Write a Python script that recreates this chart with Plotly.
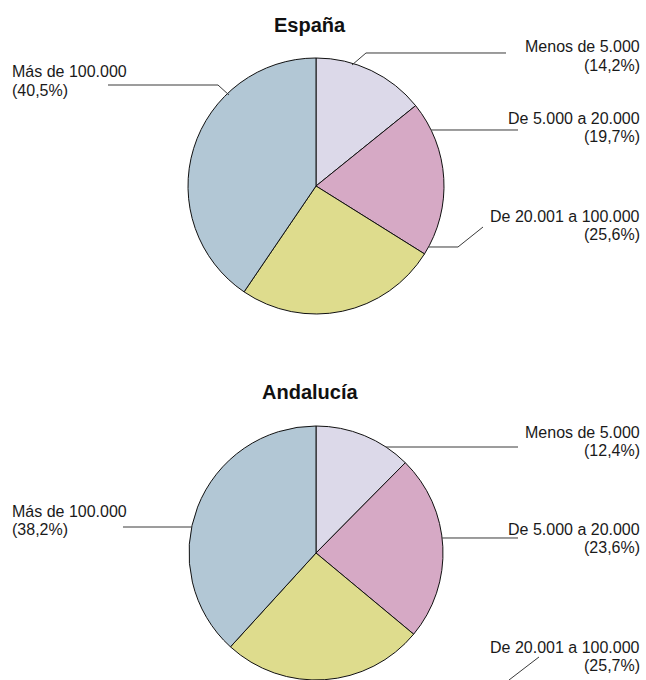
import math
import plotly.graph_objects as go

# ---- data ----
categories = ["Menos de 5.000", "De 5.000 a 20.000", "De 20.001 a 100.000", "Más de 100.000"]
espana_values = [14.2, 19.7, 25.6, 40.5]
andalucia_values = [12.4, 23.6, 25.7, 38.2]
espana_pct_labels = ["(14,2%)", "(19,7%)", "(25,6%)", "(40,5%)"]
andalucia_pct_labels = ["(12,4%)", "(23,6%)", "(25,7%)", "(38,2%)"]
titles = ["España", "Andalucía"]
colors = ["#DCD9E9", "#D6A9C5", "#DEDC8D", "#B2C7D5"]

W, H = 646, 680
FONT = "Liberation Sans, Arial, sans-serif"
LINE_COL = "#3a3a3a"

def px(x):
    return x / W

def py(y):
    return 1 - y / H

# pie geometry (pixels): centre x, centre y, radius
pies = [
    dict(cx=316, cy=186, r=128, title_y=25, values=espana_values, pct=espana_pct_labels),
    dict(cx=316, cy=553, r=127, title_y=392, values=andalucia_values, pct=andalucia_pct_labels),
]

# label layout per pie: (category index, side, text centre y line1, leader path spec)
label_layout = [
    [
        (0, "right", 47, [(506, 53), (366, 53), (352, 65)]),
        (1, "right", 118, [(518, 130), ("edge", 130)]),
        (2, "right", 216, [(483, 227), (458, 247), ("edge", 247)]),
        (3, "left", 72, [(108, 85), (218, 85), (229, 95)]),
    ],
    [
        (0, "right", 432, [(518, 447), ("edge", 447)]),
        (1, "right", 529, [(518, 538), ("edge", 538)]),
        (2, "right", 647, [(539, 657), (509, 680)]),
        (3, "left", 511, [(123, 527), ("edgeL", 527)]),
    ],
]

fig = go.Figure()
annotations = []
shapes = []

for p in pies:
    cx, cy, r = p["cx"], p["cy"], p["r"]
    fig.add_trace(go.Pie(
        labels=categories,
        values=p["values"],
        sort=False,
        direction="clockwise",
        rotation=0,
        marker=dict(colors=colors, line=dict(color="#111111", width=1)),
        textinfo="none",
        hoverinfo="label+percent",
        showlegend=False,
        domain=dict(x=[px(cx - r), px(cx + r)], y=[max(0, py(cy + r)), min(1, py(cy - r))]),
    ))

for p, title in zip(pies, titles):
    annotations.append(dict(
        x=px(310), y=py(p["title_y"]), xref="paper", yref="paper",
        text="<b>%s</b>" % title, showarrow=False,
        xanchor="center", yanchor="middle",
        font=dict(family=FONT, size=20, color="#111111"),
    ))

for p, layout_spec in zip(pies, label_layout):
    cx, cy, r = p["cx"], p["cy"], p["r"]
    for idx, side, ty, path in layout_spec:
        if side == "right":
            tx, xa = 642, "right"
        else:
            tx, xa = 10, "left"
        for k, txt in enumerate([categories[idx], p["pct"][idx]]):
            annotations.append(dict(
                x=px(tx), y=py(ty + 18.5 * k), xref="paper", yref="paper",
                text=txt, showarrow=False, xanchor=xa, yanchor="middle",
                font=dict(family=FONT, size=16, color="#1a1a1a"),
            ))
        pts = []
        for pt in path:
            if pt[0] in ("edge", "edgeL"):
                yy = pt[1]
                dx = math.sqrt(max(r * r - (yy - cy) ** 2, 0))
                xx = cx + dx if pt[0] == "edge" else cx - dx
                pts.append((xx, yy))
            else:
                pts.append(pt)
        d = "M %f %f " % (px(pts[0][0]), py(pts[0][1]))
        d += " ".join("L %f %f" % (px(a), py(b)) for a, b in pts[1:])
        shapes.append(dict(type="path", path=d, xref="paper", yref="paper",
                           line=dict(color=LINE_COL, width=1)))

fig.update_layout(
    width=W, height=H,
    margin=dict(l=0, r=0, t=0, b=0),
    paper_bgcolor="white", plot_bgcolor="white",
    annotations=annotations, shapes=shapes,
)

fig.write_html(
    "out.html",
    config={"displayModeBar": False},
    post_script="document.body.style.margin='0';document.body.style.overflow='hidden';",
)
